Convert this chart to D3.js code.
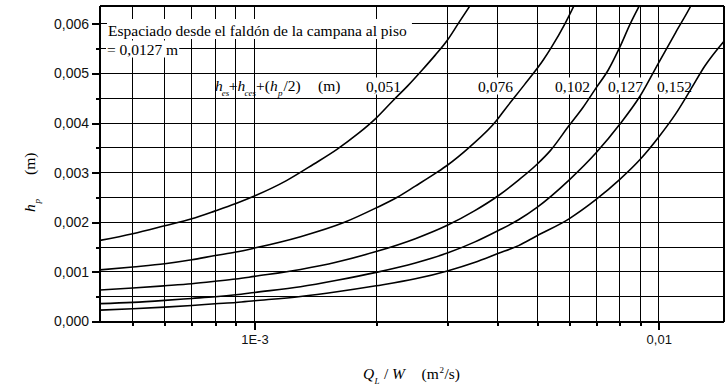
<!DOCTYPE html>
<html>
<head>
<meta charset="utf-8">
<script src="https://cdn.jsdelivr.net/npm/d3@7/dist/d3.min.js"></script>
<style>
  html, body { margin: 0; padding: 0; background: #fff; }
  svg { display: block; }
</style>
</head>
<body>
<svg id="chart" width="725" height="390"></svg>
<script>
// Spacing between hood skirt and floor curves: h_p versus Q_L/W
const curveLabels = ["0,051", "0,076", "0,102", "0,127", "0,152"];

const flow051 = [4.15e-4, 5e-4, 6e-4, 7e-4, 8e-4, 9e-4, 1e-3, 1.2e-3, 1.4e-3, 1.6e-3, 1.8e-3, 2e-3, 2.2e-3, 2.4e-3, 2.6e-3, 2.8e-3, 3e-3, 3.2e-3, 3.5e-3];
const hp051   = [0.001636, 0.00177, 0.00193, 0.00207, 0.00223, 0.00238, 0.00253, 0.00284, 0.00317, 0.00347, 0.00378, 0.00410, 0.00445, 0.00476, 0.00507, 0.00537, 0.00567, 0.00602, 0.00650];

const flow076 = [4.15e-4, 5e-4, 6e-4, 7e-4, 8e-4, 9e-4, 1e-3, 1.3e-3, 1.67e-3, 2e-3, 2.25e-3, 2.5e-3, 2.82e-3, 3e-3, 3.41e-3, 3.97e-3, 4.16e-3, 4.64e-3, 5.18e-3, 5.43e-3, 5.86e-3, 6.2e-3];
const hp076   = [0.00104, 0.00110, 0.001165, 0.001245, 0.00133, 0.00140, 0.00148, 0.00171, 0.00200, 0.00229, 0.00250, 0.00273, 0.00300, 0.00315, 0.00352, 0.00405, 0.00427, 0.00476, 0.00527, 0.00553, 0.00600, 0.00640];

const flow102 = [4.15e-4, 5e-4, 6e-4, 7e-4, 8e-4, 9e-4, 1e-3, 1.3e-3, 1.6e-3, 2e-3, 2.5e-3, 3e-3, 3.5e-3, 4e-3, 4.5e-3, 5e-3, 5.4e-3, 6e-3, 6.5e-3, 7e-3, 7.5e-3, 8e-3, 8.5e-3, 9e-3];
const hp102   = [0.000634, 0.000674, 0.00072, 0.000762, 0.00081, 0.000856, 0.00091, 0.00105, 0.00120, 0.00141, 0.00167, 0.00194, 0.00223, 0.00253, 0.00285, 0.00317, 0.00345, 0.00395, 0.00432, 0.00471, 0.00507, 0.00552, 0.00600, 0.00640];

const flow127 = [4.15e-4, 5e-4, 6e-4, 7e-4, 8e-4, 9e-4, 1e-3, 1.3e-3, 1.6e-3, 2e-3, 2.5e-3, 3e-3, 3.5e-3, 4e-3, 4.5e-3, 5e-3, 6e-3, 7e-3, 8e-3, 9e-3, 1e-2, 1.1e-2, 1.2e-2, 1.25e-2];
const hp127   = [0.00036, 0.000385, 0.000425, 0.000465, 0.00050, 0.00054, 0.000586, 0.00070, 0.00083, 0.00099, 0.00118, 0.00138, 0.00160, 0.00183, 0.00205, 0.00230, 0.00285, 0.00340, 0.00397, 0.00455, 0.00522, 0.00582, 0.00636, 0.00665];

const flow152 = [4.15e-4, 5e-4, 6e-4, 7e-4, 8e-4, 9e-4, 1e-3, 1.3e-3, 1.6e-3, 2e-3, 2.5e-3, 3e-3, 3.5e-3, 4e-3, 4.5e-3, 5e-3, 6e-3, 7e-3, 8e-3, 9e-3, 1e-2, 1.1e-2, 1.2e-2, 1.3e-2, 1.45e-2];
const hp152   = [0.00023, 0.000257, 0.00029, 0.000323, 0.000357, 0.000384, 0.000418, 0.000505, 0.00060, 0.00072, 0.00086, 0.00102, 0.00119, 0.00137, 0.00153, 0.00173, 0.00207, 0.00246, 0.00286, 0.00327, 0.00372, 0.00418, 0.00468, 0.00515, 0.00565];

// Axis ticks and grid
const flowDomain = [4.15e-4, 1.45e-2];
const hpDomain = [0, 0.00636];
const flowMajorTicks = [1e-3, 1e-2];
const flowMajorLabels = ["1E-3", "0,01"];
const flowMinorTicks = [5e-4, 6e-4, 7e-4, 8e-4, 9e-4, 2e-3, 3e-3, 4e-3, 5e-3, 6e-3, 7e-3, 8e-3, 9e-3];
const hpMajorTicks = [0, 0.001, 0.002, 0.003, 0.004, 0.005, 0.006];
const hpMinorTicks = [0.0005, 0.0015, 0.0025, 0.0035, 0.0045, 0.0055];

const series = [
  { label: curveLabels[0], q: flow051, h: hp051 },
  { label: curveLabels[1], q: flow076, h: hp076 },
  { label: curveLabels[2], q: flow102, h: hp102 },
  { label: curveLabels[3], q: flow127, h: hp127 },
  { label: curveLabels[4], q: flow152, h: hp152 }
];

const SANS = "'Liberation Sans', Arial, sans-serif";
const SERIF = "'Liberation Serif', 'Times New Roman', serif";

const svg = d3.select("#chart");
const plot = { left: 100, right: 724, top: 6, bottom: 321.5 };

const x = d3.scaleLog().domain(flowDomain).range([plot.left, plot.right]);
const y = d3.scaleLinear().domain(hpDomain).range([plot.bottom, plot.top]);

const comma = d3.formatLocale({ decimal: ",", thousands: ".", grouping: [3], currency: ["", ""] });
const fmtY = comma.format(".3f");

// Grid
const grid = svg.append("g").attr("stroke", "#000").attr("stroke-width", 1).attr("shape-rendering", "crispEdges");
grid.selectAll("line.v")
  .data(flowMinorTicks.concat(flowMajorTicks))
  .join("line")
  .attr("x1", d => x(d)).attr("x2", d => x(d))
  .attr("y1", plot.top).attr("y2", plot.bottom);
grid.selectAll("line.h")
  .data(hpMinorTicks.concat(hpMajorTicks.slice(1)))
  .join("line")
  .attr("x1", plot.left).attr("x2", plot.right)
  .attr("y1", d => y(d)).attr("y2", d => y(d));

// Helper for rich text pieces
function piece(g, txt, px, py, opts = {}) {
  return g.append("text")
    .attr("x", px).attr("y", py)
    .attr("font-family", opts.family || SERIF)
    .attr("font-size", opts.size || 15.5)
    .attr("font-style", opts.italic ? "italic" : "normal")
    .attr("fill", "#000")
    .text(txt);
}

function boxed(g, node, pad) {
  const b = node.node().getBBox();
  g.insert("rect", () => node.node())
    .attr("x", b.x - pad[3]).attr("y", b.y - pad[0])
    .attr("width", b.width + pad[1] + pad[3])
    .attr("height", b.height + pad[0] + pad[2])
    .attr("fill", "#fff");
}

// Note about the skirt-to-floor spacing
const note = svg.append("g");
const line1 = piece(note, "Espaciado desde el faldón de la campana al piso", 108, 36);
boxed(note, line1, [3, 5, 0, 1]);
const line2 = piece(note, "= 0,0127 m", 107, 54.5);
boxed(note, line2, [0, 1, 0, 1]);

// Parameter label h_es + h_ces + (h_p/2) (m)
const param = svg.append("g");
piece(param, "h", 215, 91, { italic: true });
piece(param, "es", 221.8, 96, { italic: true, size: 9 });
piece(param, "+", 228.8, 91);
piece(param, "h", 237.5, 91, { italic: true });
piece(param, "ces", 244.5, 96, { italic: true, size: 9 });
piece(param, "+(", 256, 91);
piece(param, "h", 270, 91, { italic: true });
piece(param, "p", 278, 96, { italic: true, size: 9 });
piece(param, "/2)", 283.5, 91);
piece(param, "(m)", 318, 91);

// Curve value labels
const labelX = [366, 478, 555, 608, 657];
const labG = svg.append("g");
series.forEach((s, i) => {
  const t = piece(labG, s.label, labelX[i], 91.5);
  boxed(labG, t, [0, 1, 0, 1]);
});

// Curves
svg.append("clipPath").attr("id", "plot-clip")
  .append("rect")
  .attr("x", plot.left).attr("y", plot.top)
  .attr("width", plot.right - plot.left).attr("height", plot.bottom - plot.top);

const line = d3.line()
  .x(d => x(d[0]))
  .y(d => y(d[1]))
  .curve(d3.curveMonotoneX);

svg.append("g").attr("clip-path", "url(#plot-clip)")
  .selectAll("path")
  .data(series)
  .join("path")
  .attr("d", s => line(s.q.map((q, i) => [q, s.h[i]])))
  .attr("fill", "none")
  .attr("stroke", "#000")
  .attr("stroke-width", 1.6);

// Frame
const frame = svg.append("g").attr("stroke", "#000").attr("shape-rendering", "crispEdges");
frame.append("line").attr("x1", plot.left).attr("x2", plot.right).attr("y1", plot.top).attr("y2", plot.top).attr("stroke-width", 1.5);
frame.append("line").attr("x1", plot.right).attr("x2", plot.right).attr("y1", plot.top).attr("y2", plot.bottom).attr("stroke-width", 1.5);
frame.append("line").attr("x1", plot.left).attr("x2", plot.left).attr("y1", plot.top).attr("y2", plot.bottom + 1).attr("stroke-width", 2);
frame.append("line").attr("x1", plot.left - 1).attr("x2", plot.right).attr("y1", plot.bottom).attr("y2", plot.bottom).attr("stroke-width", 2);

// Axes
function styleAxis(g) {
  g.select(".domain").remove();
  g.selectAll(".tick line").attr("stroke", "#000").attr("stroke-width", 2).attr("shape-rendering", "crispEdges");
  g.selectAll(".tick text").attr("fill", "#111");
}

svg.append("g")
  .attr("transform", `translate(${plot.left},0)`)
  .call(d3.axisLeft(y).tickValues(hpMinorTicks).tickSize(4).tickFormat(""))
  .call(styleAxis);

svg.append("g")
  .attr("transform", `translate(${plot.left},0)`)
  .call(d3.axisLeft(y).tickValues(hpMajorTicks).tickSize(8).tickPadding(3).tickFormat(fmtY))
  .call(styleAxis)
  .selectAll(".tick text")
  .attr("font-family", SANS).attr("font-size", 14);

svg.append("g")
  .attr("transform", `translate(0,${plot.bottom})`)
  .call(d3.axisBottom(x).tickValues(flowMinorTicks).tickSize(4).tickFormat(""))
  .call(styleAxis);

svg.append("g")
  .attr("transform", `translate(0,${plot.bottom})`)
  .call(d3.axisBottom(x).tickValues(flowMajorTicks).tickSize(8).tickPadding(5)
    .tickFormat((d, i) => flowMajorLabels[i]))
  .call(styleAxis)
  .selectAll(".tick text")
  .attr("font-family", SANS).attr("font-size", 13);

// Y-axis title: h_p (m)
const yTitle = svg.append("g").attr("transform", "translate(35,212) rotate(-90)");
piece(yTitle, "h", 0, 0, { italic: true });
piece(yTitle, "p", 8.5, 4.5, { italic: true, size: 9 });
piece(yTitle, "(m)", 37, 0);

// X-axis title: Q_L / W (m²/s)
const xTitle = svg.append("g");
piece(xTitle, "Q", 363, 379, { italic: true });
piece(xTitle, "L", 374.5, 384, { italic: true, size: 9 });
piece(xTitle, "/", 384, 379);
piece(xTitle, "W", 392, 379, { italic: true });
piece(xTitle, "(m", 421.5, 379);
piece(xTitle, "2", 439.5, 372.5, { size: 9 });
piece(xTitle, "/s)", 444.5, 379);
</script>
</body>
</html>
